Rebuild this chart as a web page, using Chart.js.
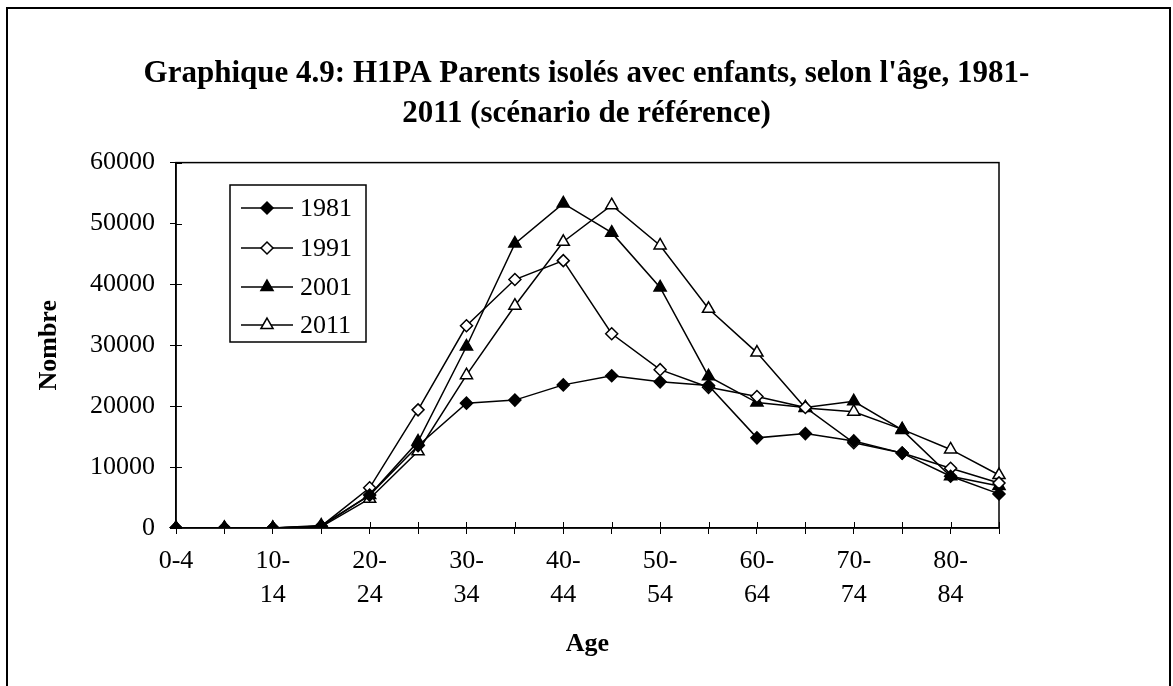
<!DOCTYPE html>
<html lang="fr">
<head>
<meta charset="utf-8">
<title>Graphique 4.9</title>
<script src="https://cdn.jsdelivr.net/npm/chart.js@4/dist/chart.umd.min.js"></script>
<style>
  html, body { margin: 0; padding: 0; background: #fff; }
  #wrap { position: relative; width: 1173px; height: 686px; }
</style>
</head>
<body>
<div id="wrap"><canvas id="chart" width="1173" height="686"></canvas></div>
<script>
// Age groups (categories) and the axis text printed under every other one
const ageGroups = ['0-4','5-9','10-14','15-19','20-24','25-29','30-34','35-39','40-44',
                   '45-49','50-54','55-59','60-64','65-69','70-74','75-79','80-84','85+'];
const axisLabels = ['0-4','',['10-','14'],'',['20-','24'],'',['30-','34'],'',['40-','44'],
                    '',['50-','54'],'',['60-','64'],'',['70-','74'],'',['80-','84'],''];
const yTicks = [0, 10000, 20000, 30000, 40000, 50000, 60000];

// Number of lone parents with children, by age group
const years = ['1981', '1991', '2001', '2011'];
const v1981 = [0, 0, 0, 300, 5400, 13500, 20500, 21000, 23500, 25000, 24000, 23400, 14800, 15500, 14300, 12300, 8500, 5600];
const v1991 = [0, 0, 0, 300, 6600, 19400, 33200, 40800, 43900, 31900, 26000, 23100, 21600, 19800, 14000, 12300, 9800, 7400];
const v2001 = [0, 0, 0, 400, 5400, 14200, 29800, 46700, 53300, 48500, 39500, 24900, 20600, 19800, 20800, 16100, 8500, 6900];
const v2011 = [0, 0, 0, 200, 4800, 12600, 25100, 36500, 47000, 53000, 46400, 36000, 28800, 19700, 19100, 16200, 12900, 8700];

const FONT = "'Liberation Serif', 'Times New Roman', serif";

const markers = [
  { pointStyle: 'rectRot',  radius: 6, fill: '#000' },
  { pointStyle: 'rectRot',  radius: 6, fill: '#fff' },
  { pointStyle: 'triangle', radius: 7, fill: '#000' },
  { pointStyle: 'triangle', radius: 7, fill: '#fff' }
];

const datasets = [v1981, v1991, v2001, v2011].map((vals, i) => ({
  label: years[i],
  data: vals,
  borderColor: '#000',
  borderWidth: 1.5,
  tension: 0,
  fill: false,
  pointStyle: markers[i].pointStyle,
  pointRadius: markers[i].radius,
  pointHoverRadius: markers[i].radius,
  pointBackgroundColor: markers[i].fill,
  pointBorderColor: '#000',
  pointBorderWidth: 1.5,
  yAxisID: 'y'
}));

// Outer frame, box around the plot, and tick marks that cross the axes
const framePlugin = {
  id: 'frameAndTicks',
  beforeDraw(chart) {
    const ctx = chart.ctx;
    ctx.save();
    ctx.fillStyle = '#fff';
    ctx.fillRect(0, 0, chart.width, chart.height);
    ctx.strokeStyle = '#000';
    ctx.lineWidth = 2;
    ctx.strokeRect(7, 8, 1163, 700);
    ctx.restore();
  },
  beforeDatasetsDraw(chart) {
    const { ctx, chartArea: a, scales } = chart;
    ctx.save();
    ctx.strokeStyle = '#000';
    ctx.lineWidth = 1.5;
    ctx.strokeRect(a.left, a.top, a.right - a.left, a.bottom - a.top);
    ctx.lineWidth = 1;
    ctx.beginPath();
    yTicks.forEach(v => {
      const y = Math.round(scales.y.getPixelForValue(v)) + 0.5;
      ctx.moveTo(a.left, y); ctx.lineTo(a.left + 6, y);
    });
    ageGroups.forEach((g, i) => {
      const x = Math.round(scales.x.getPixelForValue(i)) + 0.5;
      ctx.moveTo(x, a.bottom); ctx.lineTo(x, a.bottom - 6);
    });
    ctx.stroke();
    ctx.restore();
  }
};

// Boxed legend sitting inside the plot, line sample with the marker on it
const legendPlugin = {
  id: 'insetLegend',
  afterDatasetsDraw(chart) {
    const ctx = chart.ctx;
    const box = { x: 230, y: 185, w: 136, h: 157 };
    const rows = [208, 248, 287, 325];
    ctx.save();
    ctx.fillStyle = '#fff';
    ctx.fillRect(box.x, box.y, box.w, box.h);
    ctx.strokeStyle = '#000';
    ctx.lineWidth = 1.5;
    ctx.strokeRect(box.x, box.y, box.w, box.h);
    chart.data.datasets.forEach((ds, i) => {
      const y = rows[i];
      ctx.strokeStyle = '#000';
      ctx.lineWidth = 1.5;
      ctx.beginPath();
      ctx.moveTo(241, y); ctx.lineTo(293, y);
      ctx.stroke();
      ctx.fillStyle = ds.pointBackgroundColor;
      ctx.strokeStyle = '#000';
      Chart.helpers.drawPoint(ctx, {
        pointStyle: ds.pointStyle, radius: ds.pointRadius, rotation: 0, borderWidth: 1.5
      }, 267, y);
      ctx.fillStyle = '#000';
      ctx.font = '26px ' + FONT;
      ctx.textAlign = 'left';
      ctx.textBaseline = 'middle';
      ctx.fillText(ds.label, 300, y + 1);
    });
    ctx.restore();
  }
};

new Chart(document.getElementById('chart'), {
  type: 'line',
  data: { labels: ageGroups, datasets },
  plugins: [framePlugin, legendPlugin],
  options: {
    responsive: false,
    animation: false,
    layout: { padding: { left: 0, right: 0, top: 0, bottom: 0 } },
    plugins: {
      legend: { display: false },
      tooltip: { enabled: false },
      title: {
        display: true,
        text: ["Graphique 4.9: H1PA Parents isolés avec enfants, selon l'âge, 1981-",
               "2011 (scénario de référence)"],
        color: '#000',
        font: { family: FONT, size: 31, weight: 'bold', lineHeight: 1.3 },
        padding: { top: 54, bottom: 28 }
      }
    },
    scales: {
      x: {
        type: 'category',
        offset: false,
        border: { display: true, color: '#000', width: 1.5 },
        grid: { display: true, drawOnChartArea: false, drawTicks: true, tickLength: 6, color: '#000', lineWidth: 1 },
        ticks: {
          autoSkip: false, maxRotation: 0, minRotation: 0, padding: 10,
          color: '#000',
          font: { family: FONT, size: 26, lineHeight: 1.3 },
          callback: (v, i) => axisLabels[i]
        },
        title: {
          display: true, text: 'Age', color: '#000',
          font: { family: FONT, size: 26, weight: 'bold', lineHeight: 1.2 },
          padding: { top: 0, bottom: 26 }
        },
        afterFit(s) { s.height = 158; }
      },
      y: {
        type: 'linear',
        position: 'left',
        min: 0, max: 60000,
        border: { display: true, color: '#000', width: 1.5 },
        grid: { display: true, drawOnChartArea: false, drawTicks: true, tickLength: 6, color: '#000', lineWidth: 1 },
        ticks: {
          stepSize: 10000, padding: 15, color: '#000',
          font: { family: FONT, size: 26 },
          callback: v => String(v)
        },
        title: {
          display: true, text: 'Nombre', color: '#000',
          font: { family: FONT, size: 26, weight: 'bold', lineHeight: 1.2 },
          padding: { top: 34, bottom: 0 }
        },
        afterFit(s) { s.width = 176; }
      },
      yRight: {
        type: 'linear',
        position: 'right',
        display: true,
        border: { display: false },
        grid: { display: false, drawTicks: false },
        ticks: { display: false },
        afterFit(s) { s.width = 174; }
      }
    }
  }
});
</script>
</body>
</html>
